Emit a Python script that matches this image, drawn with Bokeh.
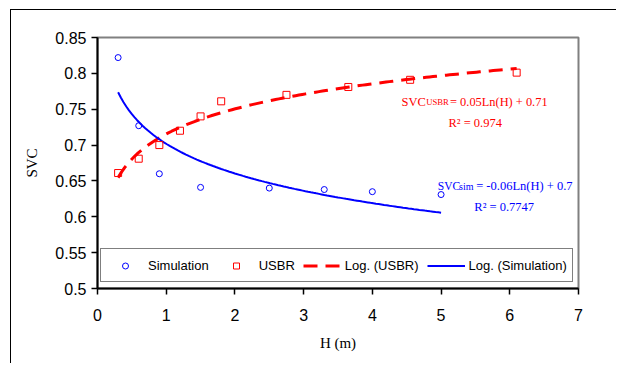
import numpy as np
from bokeh.plotting import figure
from bokeh.models import FixedTicker, Legend, LegendItem, Label
from bokeh.embed import file_html
from bokeh.resources import INLINE

# ---- data ----
sim_h = [0.3, 0.6, 0.9, 1.5, 2.5, 3.3, 4.0, 5.0]
sim_svc = [0.822, 0.727, 0.660, 0.641, 0.640, 0.638, 0.635, 0.631]
usbr_h = [0.3, 0.6, 0.9, 1.2, 1.5, 1.8, 2.75, 3.65, 4.55, 6.1]
usbr_svc = [0.661, 0.681, 0.700, 0.720, 0.740, 0.761, 0.770, 0.781, 0.791, 0.801]
x_ticks = [0, 1, 2, 3, 4, 5, 6, 7]
y_ticks = [0.5, 0.55, 0.6, 0.65, 0.7, 0.75, 0.8, 0.85]
y_tick_labels = ["0.5", "0.55", "0.6", "0.65", "0.7", "0.75", "0.8", "0.85"]
legend_labels = ["Simulation", "USBR", "Log. (USBR)", "Log. (Simulation)"]
eq_usbr = ["SVC", "USBR", "= 0.05Ln(H) + 0.71", "R\u00b2 = 0.974"]
eq_sim = ["SVC", "sim", "= -0.06Ln(H) + 0.7", "R\u00b2 = 0.7747"]

RED = "#FF0000"
BLUE = "#0000FF"
SERIF = "Liberation Serif"
SANS = "Liberation Sans"

# logarithmic trend lines (least squares on ln(H))
def log_fit(h, v):
    a, b = np.polyfit(np.log(h), v, 1)
    xs = np.linspace(min(h), max(h), 120)
    return xs, a * np.log(xs) + b

usbr_fx, usbr_fy = log_fit(usbr_h, usbr_svc)
sim_fx, sim_fy = log_fit(sim_h, sim_svc)

p = figure(width=606, height=354, x_range=(0, 7), y_range=(0.5, 0.85),
           output_backend="svg", toolbar_location=None,
           min_border_left=86, min_border_right=39, min_border_top=27,
           min_border_bottom=76)
p.margin = (9, 0, 0, 10)
p.styles = {"border-top": "1px solid black", "border-left": "1px solid black"}
p.grid.visible = False
p.outline_line_color = "#808080"
p.outline_line_width = 2

for ax in (p.xaxis[0], p.yaxis[0]):
    ax.axis_line_color = "black"
    ax.axis_line_width = 2
    ax.major_tick_line_color = "black"
    ax.major_tick_line_width = 1.5
    ax.major_tick_out = 6
    ax.major_tick_in = 0
    ax.minor_tick_line_color = None
    ax.major_label_text_font = SANS
    ax.major_label_text_font_size = "16px"
    ax.major_label_text_color = "black"
    ax.axis_label_text_font = SERIF
    ax.axis_label_text_font_size = "15px"
    ax.axis_label_text_font_style = "normal"
    ax.axis_label_text_color = "black"

p.xaxis.ticker = FixedTicker(ticks=x_ticks)
p.yaxis.ticker = FixedTicker(ticks=y_ticks)
p.yaxis.major_label_overrides = dict(zip(y_ticks, y_tick_labels))
p.xaxis.axis_label = "H (m)"
p.yaxis.axis_label = "SVC"
p.xaxis.major_label_standoff = 14
p.yaxis.major_label_standoff = 5
p.xaxis.axis_label_standoff = 11
p.yaxis.axis_label_standoff = 12

r_usbr_fit = p.line(usbr_fx, usbr_fy, line_color=RED, line_width=3, line_dash="14 8")
r_sim_fit = p.line(sim_fx, sim_fy, line_color=BLUE, line_width=2)
r_sim = p.scatter(sim_h, sim_svc, marker="circle", size=6, fill_color=None,
                  line_color=BLUE, line_width=1)
r_usbr = p.scatter(usbr_h, usbr_svc, marker="square", size=7, fill_color=None,
                   line_color=RED, line_width=1)

legend = Legend(items=[
    LegendItem(label=legend_labels[0], renderers=[r_sim]),
    LegendItem(label=legend_labels[1], renderers=[r_usbr]),
    LegendItem(label=legend_labels[2], renderers=[r_usbr_fit]),
    LegendItem(label=legend_labels[3], renderers=[r_sim_fit]),
], orientation="horizontal", location=(3, 6))
legend.label_text_font = SANS
legend.label_text_font_size = "13px"
legend.label_text_color = "black"
legend.glyph_width = 38
legend.glyph_height = 15
legend.label_height = 22
legend.label_standoff = 4
legend.spacing = 8
legend.padding = 5
legend.margin = 0
legend.border_line_color = "black"
legend.border_line_width = 1.5
legend.background_fill_color = "white"
legend.background_fill_alpha = 1
p.add_layout(legend)

# equation annotations (pixel positions converted to data units)
def dx(px):
    return (px - 98) / (481 / 7)

def dy(py):
    return 0.85 - (py - 38) * 0.35 / 251

def lab(px, py, text, color, size, align="left"):
    p.add_layout(Label(x=dx(px), y=dy(py), text=text, text_color=color,
                       text_font=SERIF, text_font_size=size,
                       text_align=align, text_baseline="alphabetic"))

lab(402, 102, eq_usbr[0], RED, "12.5px")
lab(426.7, 102, eq_usbr[1], RED, "8.7px")
lab(450.5, 102, eq_usbr[2], RED, "12.4px")
lab(475.7, 123, eq_usbr[3], RED, "12.5px", "center")

lab(438.3, 186.5, eq_sim[0], BLUE, "11.5px")
lab(459.5, 186.5, eq_sim[1], BLUE, "10px")
lab(476.7, 186.5, eq_sim[2], BLUE, "12.5px")
lab(504.7, 207, eq_sim[3], BLUE, "12.5px", "center")

open("out.html", "w").write(file_html(p, INLINE))
